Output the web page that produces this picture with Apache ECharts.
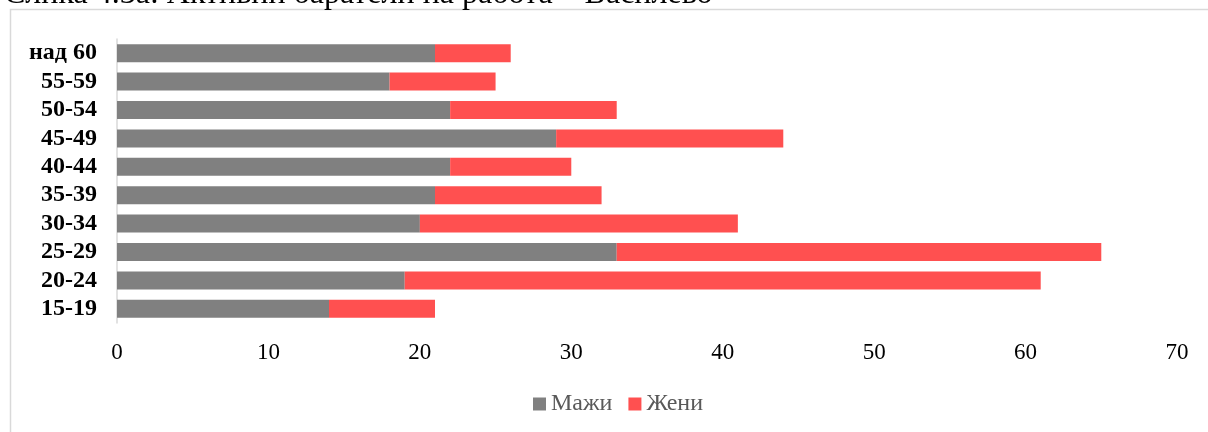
<!DOCTYPE html>
<html>
<head>
<meta charset="utf-8">
<script src="https://cdn.jsdelivr.net/npm/echarts@6/dist/echarts.min.js"></script>
<style>
  html, body { margin: 0; padding: 0; background: #fff; }
  #chart { width: 1208px; height: 432px; }
</style>
</head>
<body>
<div id="chart"></div>
<script>
const categories = ['15-19', '20-24', '25-29', '30-34', '35-39', '40-44', '45-49', '50-54', '55-59', 'над 60'];
const men = [14, 19, 33, 20, 21, 22, 29, 22, 18, 21];
const women = [7, 42, 32, 21, 11, 8, 15, 11, 7, 5];
const seriesNames = ['Мажи', 'Жени'];
const titleText = 'Слика 4.3а: Активни баратели на работа – Василево';

const chart = echarts.init(document.getElementById('chart'));
const serif = '"Liberation Serif", "DejaVu Serif", serif';
chart.setOption({
  animation: false,
  backgroundColor: '#ffffff',
  graphic: [
    {
      type: 'rect',
      shape: { x: 10.5, y: 9.5, width: 1400, height: 600 },
      style: { fill: 'none', stroke: '#d9d9d9', lineWidth: 1.5 },
      silent: true
    },
    {
      type: 'text',
      x: 4,
      y: -5,
      style: {
        text: titleText,
        font: '32px ' + serif,
        fill: '#000',
        verticalAlign: 'middle',
        align: 'left'
      },
      silent: true
    }
  ],
  grid: { left: 117, right: 31, top: 39, bottom: 109, containLabel: false },
  legend: {
    data: seriesNames,
    left: 533,
    top: 392,
    padding: 0,
    itemWidth: 13,
    itemHeight: 13,
    itemGap: 16,
    icon: 'rect',
    textStyle: { fontFamily: serif, fontSize: 24, color: '#595959' }
  },
  xAxis: {
    type: 'value',
    min: 0,
    max: 70,
    interval: 10,
    axisLine: { show: false },
    axisTick: { show: false },
    splitLine: { show: false },
    axisLabel: { fontFamily: serif, fontSize: 23, color: '#000', margin: 18 }
  },
  yAxis: {
    type: 'category',
    data: categories,
    axisLine: { show: true, lineStyle: { color: '#d9d9d9', width: 1.5 } },
    axisTick: { show: false },
    axisLabel: { interval: 0, fontFamily: serif, fontSize: 24, fontWeight: 'bold', color: '#000', margin: 20 }
  },
  series: [
    {
      name: seriesNames[0],
      type: 'bar',
      stack: 'total',
      data: men,
      barWidth: 18,
      itemStyle: { color: '#808080' }
    },
    {
      name: seriesNames[1],
      type: 'bar',
      stack: 'total',
      data: women,
      barWidth: 18,
      itemStyle: { color: '#ff5050' }
    }
  ]
});
</script>
</body>
</html>
